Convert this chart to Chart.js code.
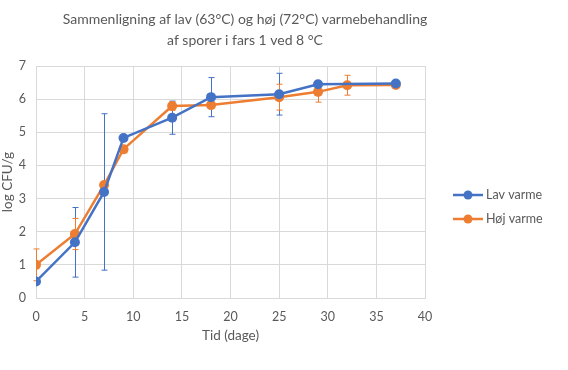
<!DOCTYPE html>
<html>
<head>
<meta charset="utf-8">
<script src="https://cdn.jsdelivr.net/npm/chart.js@4"></script>
<style>
  html, body { margin: 0; padding: 0; background: #fff; }
  #wrap { width: 568px; height: 370px; }
</style>
</head>
<body>
<div id="wrap"><canvas id="chart" width="568" height="370"></canvas></div>
<script>
// data
const titleLines = ["Sammenligning af lav (63°C) og høj (72°C) varmebehandling", "af sporer i fars 1 ved 8 °C"];
const seriesNames = ["Lav varme", "Høj varme"];

const lavDays = [0, 4, 7, 9, 14, 18, 25, 29, 37];
const lavLog = [0.5, 1.68, 3.2, 4.83, 5.44, 6.06, 6.15, 6.45, 6.47];
const lavErr = [0, 1.05, 2.36, 0, 0.5, 0.59, 0.63, 0, 0];

const hojDays = [0, 4, 7, 9, 14, 18, 25, 29, 32, 37];
const hojLog = [1.0, 1.93, 3.41, 4.49, 5.79, 5.82, 6.06, 6.22, 6.42, 6.43];
const hojErr = [0.48, 0.47, 0, 0.11, 0.12, 0, 0.39, 0.31, 0.3, 0];

const xTicks = [0, 5, 10, 15, 20, 25, 30, 35, 40];
const yTicks = [0, 1, 2, 3, 4, 5, 6, 7];

const FONT = "Lato, 'Open Sans', sans-serif";
const GREY = "#595959";
const BLUE = "#4472C4";
const ORANGE = "#ED7D31";

function points(xs, ys, errs){
    return xs.map((x, i) => ({ x: x, y: ys[i], err: errs[i] }));
}

// error bars drawn with the chart scales
const errorBars = {
    id: "errorBars",
    beforeDatasetsDraw(chart){
        const ctx = chart.ctx;
        const xs = chart.scales.x, ys = chart.scales.y;
        chart.data.datasets.forEach(ds => {
            ctx.save();
            ctx.strokeStyle = ds.borderColor;
            ctx.lineWidth = 1;
            ds.data.forEach(p => {
                if(!p.err) return;
                const px = Math.round(xs.getPixelForValue(p.x)) + 0.5;
                const top = ys.getPixelForValue(p.y + p.err);
                const bot = ys.getPixelForValue(p.y - p.err);
                ctx.beginPath();
                ctx.moveTo(px, top); ctx.lineTo(px, bot);
                ctx.moveTo(px - 3, top); ctx.lineTo(px + 3, top);
                ctx.moveTo(px - 3, bot); ctx.lineTo(px + 3, bot);
                ctx.stroke();
            });
            ctx.restore();
        });
    }
};

// title + legend drawn like the spreadsheet chart
const decorations = {
    id: "decorations",
    afterDraw(chart){
        const ctx = chart.ctx;
        ctx.save();
        ctx.fillStyle = GREY;
        ctx.textAlign = "center";
        ctx.textBaseline = "middle";
        ctx.font = "14px " + FONT;
        ctx.fillText(titleLines[0], 245, 19);
        ctx.fillText(titleLines[1], 245, 40);

        ctx.textAlign = "left";
        ctx.font = "12.5px " + FONT;
        chart.data.datasets.forEach((ds, i) => {
            const y = 195 + i * 24;
            ctx.strokeStyle = ds.borderColor;
            ctx.lineWidth = 2.5;
            ctx.beginPath();
            ctx.moveTo(453, y); ctx.lineTo(483, y);
            ctx.stroke();
            ctx.fillStyle = ds.borderColor;
            ctx.beginPath();
            ctx.arc(468, y, 4.5, 0, Math.PI * 2);
            ctx.fill();
            ctx.fillStyle = GREY;
            ctx.fillText(seriesNames[i], 486, y);
        });
        ctx.restore();
    }
};

function makeDataset(label, data, color){
    return {
        label: label,
        data: data,
        showLine: true,
        borderColor: color,
        backgroundColor: color,
        borderWidth: 2.5,
        pointRadius: 5,
        pointHoverRadius: 5,
        pointBorderWidth: 0
    };
}

new Chart(document.getElementById("chart"), {
    type: "scatter",
    data: {
        datasets: [
            makeDataset(seriesNames[0], points(lavDays, lavLog, lavErr), BLUE),
            makeDataset(seriesNames[1], points(hojDays, hojLog, hojErr), ORANGE)
        ]
    },
    options: {
        responsive: false,
        animation: false,
        layout: { padding: { top: 66, right: 143, bottom: 22, left: 0 } },
        plugins: {
            legend: { display: false },
            title: { display: false },
            tooltip: { enabled: false }
        },
        scales: {
            x: {
                type: "linear",
                min: 0, max: 40,
                afterBuildTicks: s => { s.ticks = xTicks.map(v => ({ value: v })); },
                afterFit: s => { s.height = 50; },
                grid: { color: "#d9d9d9", drawTicks: false },
                border: { color: "#d9d9d9" },
                ticks: { color: GREY, font: { family: FONT, size: 12.5 }, padding: 11 },
                title: { display: true, text: "Tid (dage)", color: GREY, font: { family: FONT, size: 13.5 }, padding: 4 }
            },
            y: {
                type: "linear",
                min: 0, max: 7,
                afterBuildTicks: s => { s.ticks = yTicks.map(v => ({ value: v })); },
                afterFit: s => { s.width = 36; },
                grid: { color: "#d9d9d9", drawTicks: false },
                border: { color: "#d9d9d9" },
                ticks: { color: GREY, font: { family: FONT, size: 12.5 }, padding: 10 },
                title: { display: true, text: "log CFU/g", color: GREY, font: { family: FONT, size: 13.5 }, padding: 0 }
            }
        }
    },
    plugins: [errorBars, decorations]
});
</script>
</body>
</html>
